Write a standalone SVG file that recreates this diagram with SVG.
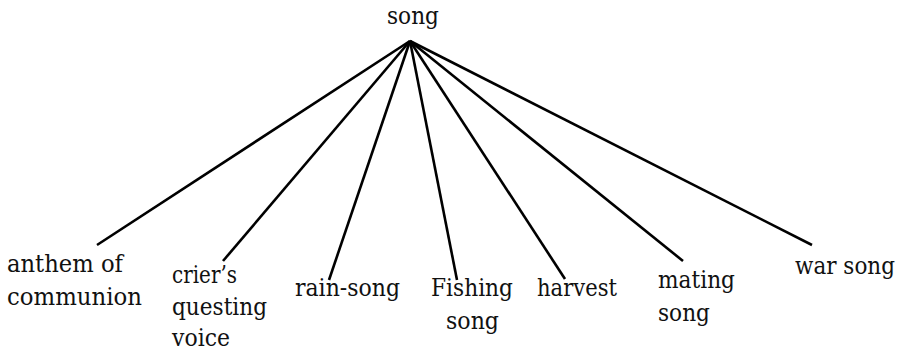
<svg xmlns="http://www.w3.org/2000/svg" width="905" height="352" viewBox="0 0 905 352">
  <style>
    .label { font-family: "DejaVu Serif", "Liberation Serif", serif; font-size: 25px; fill: #111; }
    .edge { stroke: #000; stroke-width: 2.6; stroke-linecap: butt; fill: none; }
  </style>
  <rect width="905" height="352" fill="#fff"/>
  <!-- connectors from the root to each child -->
  <g id="edges">
    <line class="edge" x1="410" y1="41" x2="97" y2="245"/>
    <line class="edge" x1="410" y1="41" x2="223" y2="261"/>
    <line class="edge" x1="410" y1="41" x2="329" y2="280"/>
    <line class="edge" x1="410" y1="41" x2="457" y2="280"/>
    <line class="edge" x1="410" y1="41" x2="565" y2="279"/>
    <line class="edge" x1="410" y1="41" x2="683" y2="261"/>
    <line class="edge" x1="410" y1="41" x2="812" y2="245"/>
  </g>
  <g id="root" class="label"><text x="387" y="24" textLength="52" lengthAdjust="spacingAndGlyphs">song</text></g>
  <g id="anthem" class="label">
    <text x="7" y="272" textLength="116" lengthAdjust="spacingAndGlyphs">anthem of</text>
    <text x="7" y="305" textLength="135" lengthAdjust="spacingAndGlyphs">communion</text>
  </g>
  <g id="crier" class="label">
    <text x="172" y="283" textLength="65" lengthAdjust="spacingAndGlyphs">crier’s</text>
    <text x="172" y="315" textLength="95" lengthAdjust="spacingAndGlyphs">questing</text>
    <text x="172" y="346" textLength="58" lengthAdjust="spacingAndGlyphs">voice</text>
  </g>
  <g id="rain" class="label"><text x="295" y="296" textLength="105" lengthAdjust="spacingAndGlyphs">rain-song</text></g>
  <g id="fishing" class="label">
    <text x="431" y="296" textLength="82" lengthAdjust="spacingAndGlyphs">Fishing</text>
    <text x="446" y="329" textLength="53" lengthAdjust="spacingAndGlyphs">song</text>
  </g>
  <g id="harvest" class="label"><text x="537" y="296" textLength="80" lengthAdjust="spacingAndGlyphs">harvest</text></g>
  <g id="mating" class="label">
    <text x="658" y="288" textLength="77" lengthAdjust="spacingAndGlyphs">mating</text>
    <text x="658" y="321" textLength="52" lengthAdjust="spacingAndGlyphs">song</text>
  </g>
  <g id="war" class="label"><text x="795" y="274" textLength="100" lengthAdjust="spacingAndGlyphs">war song</text></g>
</svg>
